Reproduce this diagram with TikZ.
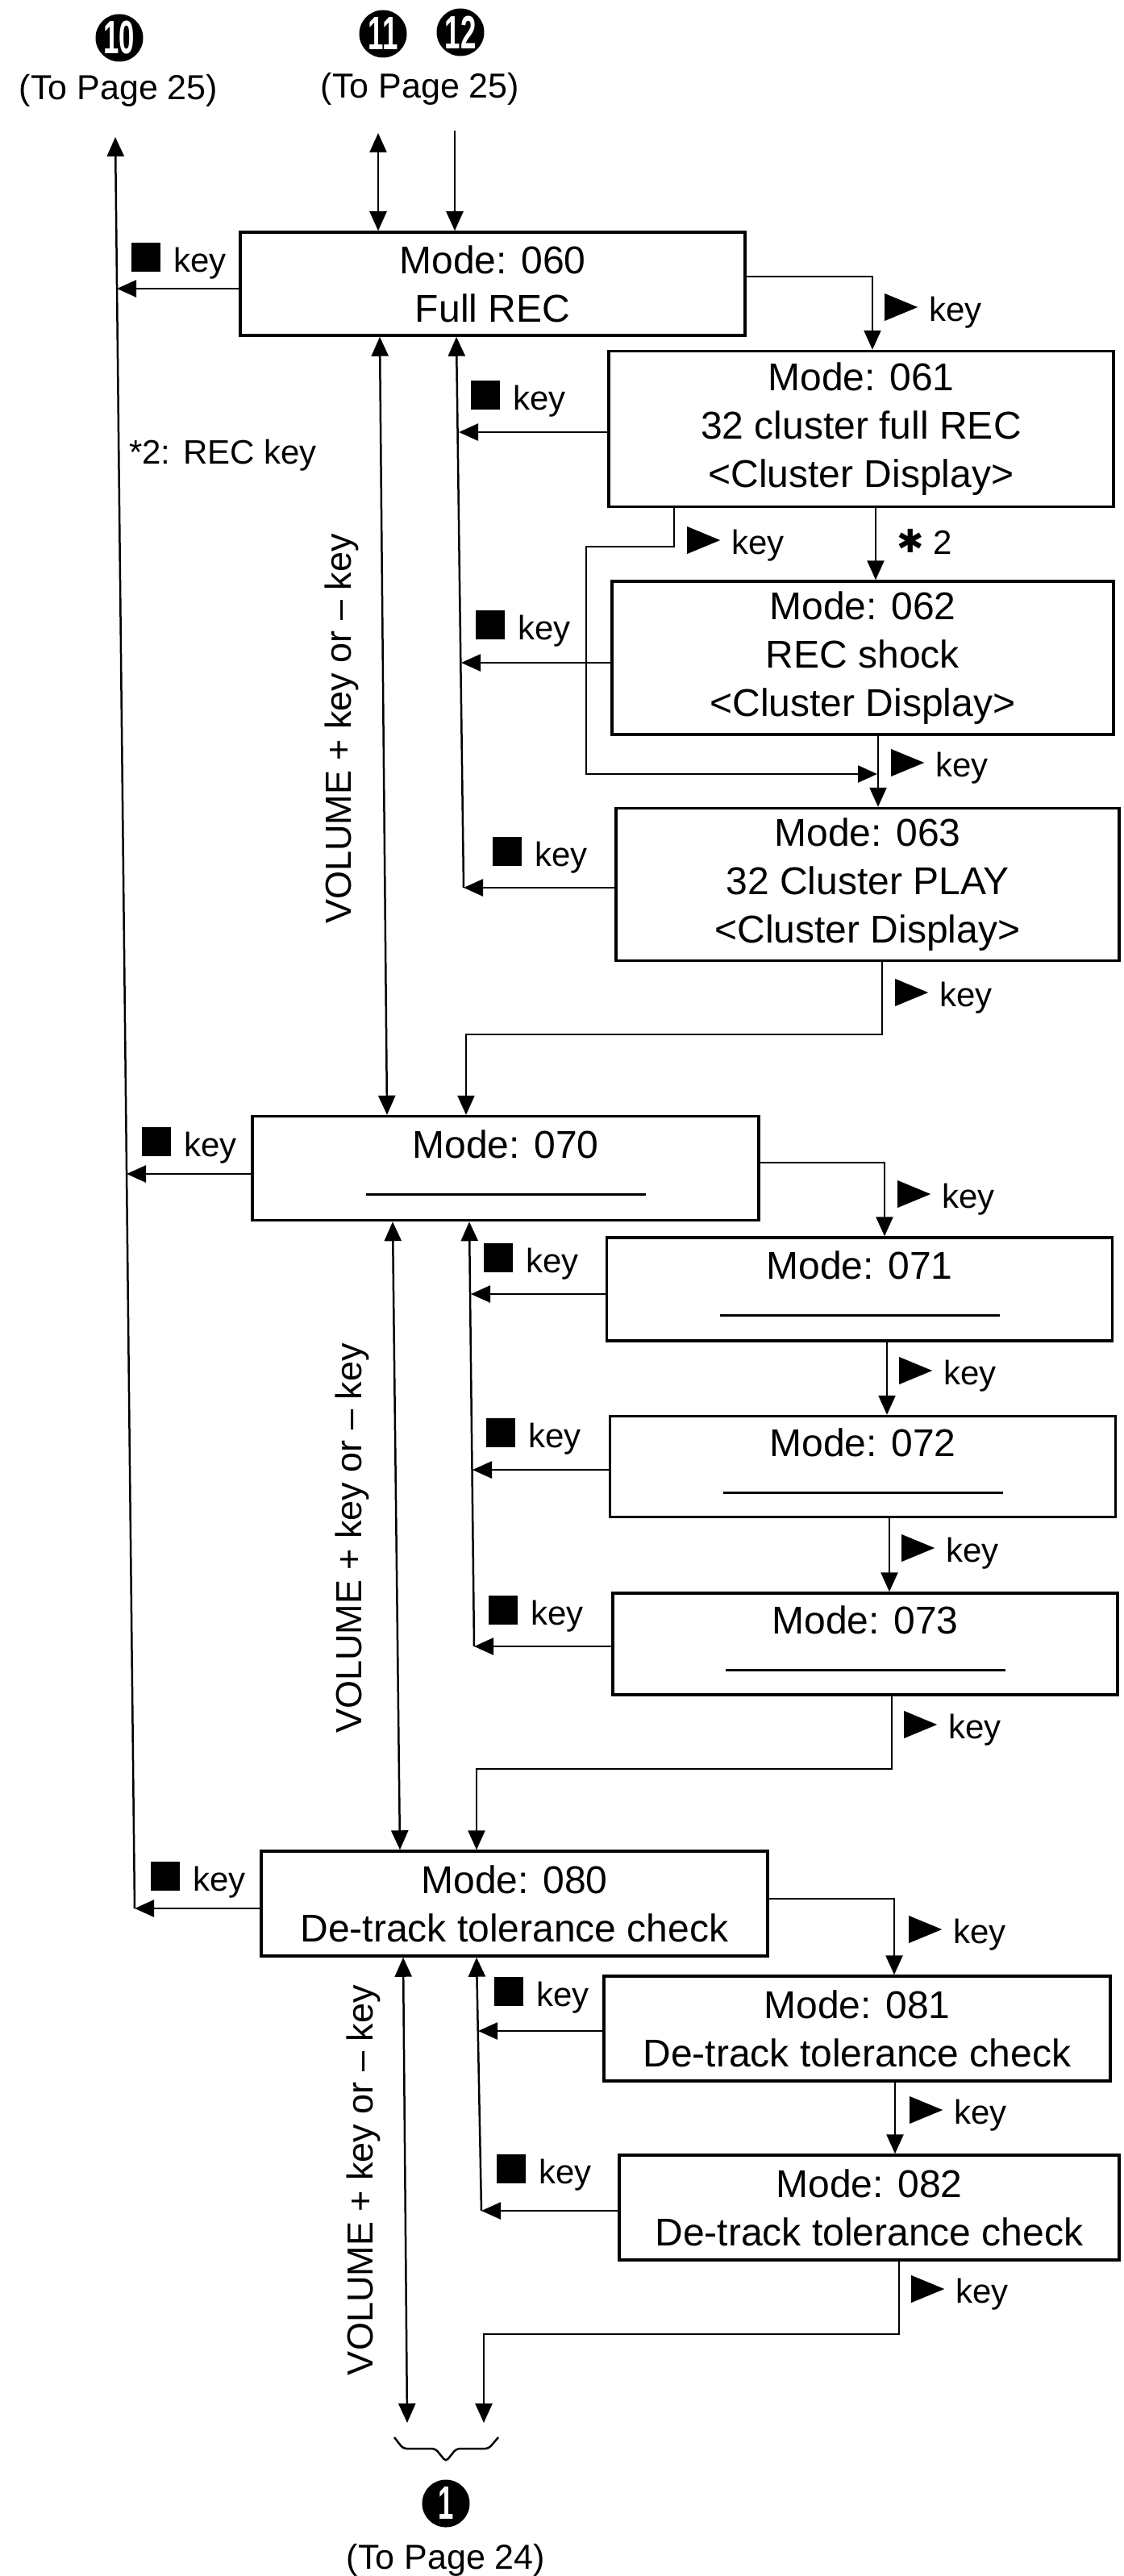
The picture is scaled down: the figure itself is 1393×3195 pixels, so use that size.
\documentclass[tikz,border=0pt]{standalone}
\usepackage{fontspec}
\setmainfont{Liberation Sans}
\newfontfamily\djv{DejaVu Sans}
\usetikzlibrary{arrows.meta}
\newcommand\ptri{\tikz[baseline=0pt]\fill (0pt,0pt) -- (41pt,17pt) -- (0pt,34pt) -- cycle;}
\newcommand\psq{\rule{36pt}{36pt}}
\newcommand\uline{\rule{347pt}{3pt}\rule[-13pt]{0pt}{13pt}}
\begin{document}
\begin{tikzpicture}[x=1pt,y=-1pt,
 boxnode/.style={draw, line width=3.5pt, inner sep=0pt, align=center, font=\fontsize{48}{60}\selectfont},
 conn/.style={line width=2.5pt},
 arr/.style={conn, -{Triangle[length=24pt,width=21pt]}},
 darr/.style={conn, {Triangle[length=24pt,width=21pt]}-{Triangle[length=24pt,width=21pt]}},
 lbl/.style={anchor=base west, inner sep=0pt, font=\fontsize{42}{42}\selectfont},
 vol/.style={rotate=90, inner sep=0pt, font=\fontsize{45}{45}\selectfont},
 pagelbl/.style={inner sep=0pt, font=\fontsize{43}{43}\selectfont},
 numc/.style={circle, fill=black, text=white, minimum size=59pt, inner sep=0pt, font=\fontsize{58}{58}\selectfont\bfseries}]
\useasboundingbox (0,0) rectangle (1393,3195);
\fill[white] (0,0) rectangle (1393,3195);

% ---------- top references
\node[numc] (n10) at (148,47) {\scalebox{0.6}[1]{10}};
\node[pagelbl] (p10) at (147,112) {(To Page 25)};
\node[numc] (n11) at (475,42) {\scalebox{0.6}[1]{11}};
\node[numc] (n12) at (571,40) {\scalebox{0.6}[1]{12}};
\node[pagelbl] (p1112) at (521,110) {(To Page 25)};

% ---------- boxes
\node[boxnode, minimum width=626pt, minimum height=128pt] (b060) at (611,352) {Mode: 060\\Full REC};
\node[boxnode, minimum width=626pt, minimum height=193pt] (b061) at (1068,532) {Mode: 061\\32 cluster full REC\\<Cluster Display>};
\node[boxnode, minimum width=622pt, minimum height=190pt] (b062) at (1070,816) {Mode: 062\\REC shock\\<Cluster Display>};
\node[boxnode, minimum width=624pt, minimum height=189pt] (b063) at (1076,1097) {Mode: 063\\32 Cluster PLAY\\<Cluster Display>};
\node[boxnode, minimum width=628pt, minimum height=129pt] (b070) at (627,1449) {Mode: 070\\[-13pt]\uline};
\node[boxnode, minimum width=627pt, minimum height=128pt] (b071) at (1066,1599) {Mode: 071\\[-13pt]\uline};
\node[boxnode, minimum width=627pt, minimum height=125pt] (b072) at (1070,1819) {Mode: 072\\[-13pt]\uline};
\node[boxnode, minimum width=626pt, minimum height=126pt] (b073) at (1073,2039) {Mode: 073\\[-13pt]\uline};
\node[boxnode, minimum width=628pt, minimum height=130pt] (b080) at (638,2361) {Mode: 080\\De-track tolerance check};
\node[boxnode, minimum width=628pt, minimum height=130pt] (b081) at (1063,2516) {Mode: 081\\De-track tolerance check};
\node[boxnode, minimum width=620pt, minimum height=130pt] (b082) at (1078,2738) {Mode: 082\\De-track tolerance check};

% ---------- top connectors
\coordinate (t10) at (143,170);
\coordinate (lb) at (167,2367);
\draw[arr] (lb) -- (t10);
\coordinate (t11) at (469,165);
\draw[darr] (t11) -- (t11 |- b060.north);
\coordinate (t12) at (564,162);
\draw[arr] (t12) -- (t12 |- b060.north);

% ---------- group 06x
\draw[arr] (b060.west |- 0,358) -- (145,358);
\draw[arr] (b060.east |- 0,343) -| (1082,0 |- b061.north);
\draw[darr] (471,0 |- b060.south) -- (480,0 |- b070.north);
\coordinate (r1) at (575,1101);
\draw[arr] (r1) -- (566,0 |- b060.south);
\draw[arr] (b061.west |- 0,536) -- (569,536);
\draw[arr] (b062.west |- 0,822) -- (572,822);
\draw[arr] (b063.west |- 0,1101) -- (r1);
\draw[arr] (1086,0 |- b061.south) -- (1086,0 |- b062.north);
\draw[arr] (836,0 |- b061.south) -- (836,678) -- (727,678) -- (727,960) -- (1088,960);
\draw[arr] (1089,0 |- b062.south) -- (1089,0 |- b063.north);
\draw[arr] (1094,0 |- b063.south) -- (1094,1283) -- (578,1283) -- (578,0 |- b070.north);

% ---------- group 07x
\draw[arr] (b070.west |- 0,1456) -- (157,1456);
\draw[arr] (b070.east |- 0,1442) -| (1097,0 |- b071.north);
\draw[darr] (487,0 |- b070.south) -- (496,0 |- b080.north);
\coordinate (r2) at (588,2042);
\draw[arr] (r2) -- (582,0 |- b070.south);
\draw[arr] (b071.west |- 0,1605) -- (584,1605);
\draw[arr] (b072.west |- 0,1823) -- (586,1823);
\draw[arr] (b073.west |- 0,2042) -- (r2);
\draw[arr] (1100,0 |- b071.south) -- (1100,0 |- b072.north);
\draw[arr] (1103,0 |- b072.south) -- (1103,0 |- b073.north);
\draw[arr] (1106,0 |- b073.south) -- (1106,2194) -- (591,2194) -- (591,0 |- b080.north);

% ---------- group 08x
\draw[arr] (b080.west |- 0,2367) -- (lb);
\draw[arr] (b080.east |- 0,2355) -| (1109,0 |- b081.north);
\coordinate (e1) at (505,3005);
\coordinate (e2) at (600,3005);
\draw[darr] (500,0 |- b080.south) -- (e1);
\coordinate (r3) at (597,2742);
\draw[arr] (r3) -- (591,0 |- b080.south);
\draw[arr] (b081.west |- 0,2519) -- (593,2519);
\draw[arr] (b082.west |- 0,2742) -- (r3);
\draw[arr] (1110,0 |- b081.south) -- (1110,0 |- b082.north);
\draw[arr] (1115,0 |- b082.south) -- (1115,2895) -- (600,2895) -- (e2);

% ---------- bottom reference
\draw[conn, rounded corners=4pt] (489,3023) -- (500,3037) -- (540,3037) -- (553,3053) -- (566,3037) -- (606,3037) -- (618,3023);
\node[numc] (n1) at (553,3105) {\scalebox{0.6}[1]{1}};
\node[pagelbl] (p1) at (553,3175) {(To Page 24)};

% ---------- stop key labels
\node[lbl] (s060) at (163,337) {\psq\hspace{16pt}key};
\node[lbl] (s061) at (584,508) {\psq\hspace{16pt}key};
\node[lbl] (s062) at (590,793) {\psq\hspace{16pt}key};
\node[lbl] (s063) at (611,1074) {\psq\hspace{16pt}key};
\node[lbl] (s070) at (176,1434) {\psq\hspace{16pt}key};
\node[lbl] (s071) at (600,1578) {\psq\hspace{16pt}key};
\node[lbl] (s072) at (603,1795) {\psq\hspace{16pt}key};
\node[lbl] (s073) at (606,2015) {\psq\hspace{16pt}key};
\node[lbl] (s080) at (187,2345) {\psq\hspace{16pt}key};
\node[lbl] (s081) at (613,2488) {\psq\hspace{16pt}key};
\node[lbl] (s082) at (616,2708) {\psq\hspace{16pt}key};

% ---------- play key labels
\node[lbl] (q1) at (1097,398) {\ptri\hspace{14pt}key};
\node[lbl] (q2) at (852,687) {\ptri\hspace{14pt}key};
\node[lbl] (q3) at (1105,963) {\ptri\hspace{14pt}key};
\node[lbl] (q4) at (1110,1248) {\ptri\hspace{14pt}key};
\node[lbl] (q5) at (1113,1498) {\ptri\hspace{14pt}key};
\node[lbl] (q6) at (1115,1717) {\ptri\hspace{14pt}key};
\node[lbl] (q7) at (1118,1937) {\ptri\hspace{14pt}key};
\node[lbl] (q8) at (1121,2156) {\ptri\hspace{14pt}key};
\node[lbl] (q9) at (1127,2410) {\ptri\hspace{14pt}key};
\node[lbl] (q10) at (1128,2634) {\ptri\hspace{14pt}key};
\node[lbl] (q11) at (1130,2856) {\ptri\hspace{14pt}key};

% ---------- other labels
\node[lbl] (rec) at (160,575) {*2: REC key};
\node[lbl] (st2) at (1112,687) {\raisebox{2pt}{\djv\fontsize{40}{40}\selectfont ✱}\hspace{12pt}2};
\node[vol] (v1) at (424,904) {VOLUME + key or – key};
\node[vol] (v2) at (437,1908) {VOLUME + key or – key};
\node[vol] (v3) at (451,2704) {VOLUME + key or – key};
\end{tikzpicture}
\end{document}
